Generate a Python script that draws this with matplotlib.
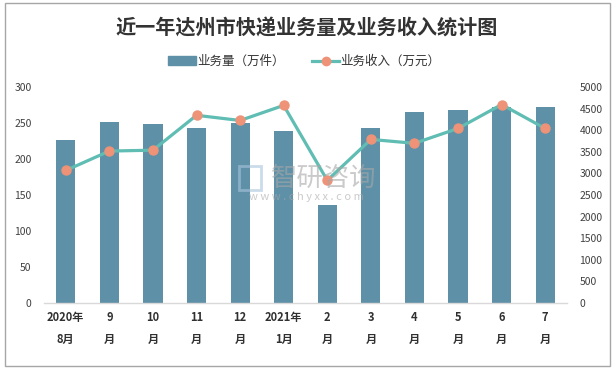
import matplotlib
matplotlib.use('Agg')
import matplotlib.pyplot as plt
from matplotlib.lines import Line2D
from matplotlib.patches import Patch, Rectangle
import numpy as np

plt.rcParams['font.family'] = ['Noto Sans CJK SC', 'DejaVu Sans']

# 数据
months = ['2020年\n8月', '9\n月', '10\n月', '11\n月', '12\n月', '2021年\n1月',
          '2\n月', '3\n月', '4\n月', '5\n月', '6\n月', '7\n月']
volume = [227, 251, 249, 244, 250, 239, 136, 243, 265, 269, 273, 272]  # 万件
income = [3070, 3520, 3540, 4350, 4230, 4580, 2840, 3790, 3700, 4045, 4600, 4045]  # 万元

bar_color = '#5e90a7'
line_color = '#5fbdb3'
marker_color = '#ee9278'
text_color = '#404040'

fig = plt.figure(figsize=(6.15, 3.69), dpi=100)
ax = fig.add_axes([0.0715, 0.1797, 0.8504, 0.5837])
ax2 = ax.twinx()

x = np.arange(len(months))
ax.bar(x, volume, width=0.44, color=bar_color, zorder=2)
ax2.plot(x, income, color=line_color, linewidth=2.3, marker='o', markersize=6.5,
         markerfacecolor=marker_color, markeredgecolor=marker_color, zorder=3)

ax.set_xlim(-0.5, len(months) - 0.5)
ax.set_ylim(0, 300)
ax.set_yticks(np.arange(0, 301, 50))
ax2.set_ylim(0, 5000)
ax2.set_yticks(np.arange(0, 5001, 500))

ax.set_xticks(x)
ax.set_xticklabels(months, fontsize=8, fontweight='bold', color='#303030', linespacing=1.9)
ax.tick_params(axis='x', length=0, pad=6)
ax.tick_params(axis='y', length=0, pad=9, labelsize=7.5, labelcolor=text_color)
ax2.tick_params(axis='y', length=0, pad=9, labelsize=7.5, labelcolor=text_color)

for a in (ax, ax2):
    for s in ['top', 'left', 'right']:
        a.spines[s].set_visible(False)
ax2.spines['bottom'].set_visible(False)
ax.spines['bottom'].set_color('#d9d9d9')
ax.spines['bottom'].set_linewidth(1)
ax.set_zorder(ax2.get_zorder() - 1)
ax.patch.set_visible(False)

# 标题
fig.text(0.498, 0.925, '近一年达州市快递业务量及业务收入统计图', ha='center', va='center',
         fontsize=14.5, fontweight='bold', color='#333333')

# 图例
handles = [Patch(facecolor=bar_color, edgecolor=bar_color),
           Line2D([0], [0], color=line_color, linewidth=2.3, marker='o', markersize=6,
                  markerfacecolor=marker_color, markeredgecolor=marker_color)]
fig.legend(handles, ['业务量（万件）', '业务收入（万元）'], loc='center', ncol=2,
           bbox_to_anchor=(0.495, 0.833), frameon=False, fontsize=9,
           handlelength=2.2, handletextpad=0.1, columnspacing=2.2,
           labelcolor='#333333')

# 水印
fig.text(0.527, 0.517, '智研咨询', ha='center', va='center', fontsize=19,
         color='#a8a8a8', alpha=0.6)
fig.text(0.499, 0.466, 'w w w . c h y x x . c o m', ha='center', va='center',
         fontsize=8, color='#a8a8a8', alpha=0.6)
fig.patches.append(Rectangle((239 / 615, 1 - 190 / 369), 22 / 615, 24 / 369,
                             transform=fig.transFigure, fill=False,
                             edgecolor='#a9c4dc', linewidth=2, alpha=0.6))

# 外框
fig.patches.append(Rectangle((5 / 615, 3 / 369), 605 / 615, 363 / 369,
                             transform=fig.transFigure, fill=False,
                             edgecolor='#a6a6a6', linewidth=1))

fig.savefig('out.png', dpi=100)
